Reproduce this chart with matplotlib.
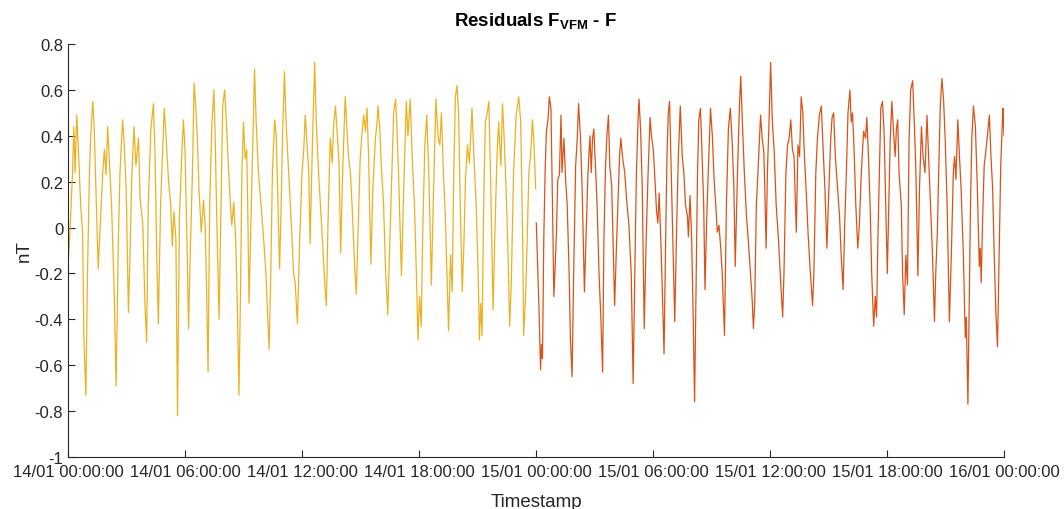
import numpy as np
import matplotlib
matplotlib.use("Agg")
import matplotlib.pyplot as plt
import matplotlib.dates as mdates

plt.rcParams['font.family'] = ['Liberation Sans', 'DejaVu Sans']
plt.rcParams['mathtext.fontset'] = 'custom'
plt.rcParams['mathtext.rm'] = 'Liberation Sans'
plt.rcParams['mathtext.bf'] = 'Liberation Sans:bold'

# minutes since 14/01 00:00 and residual (nT)
day1_min = [0, 6, 14, 18, 22, 27, 32, 39, 45, 49, 55, 60, 66, 70, 76, 80, 86, 93, 99,
            107, 112, 117, 122, 129, 134, 142, 148, 155, 160, 168, 172, 179, 186, 191,
            196, 203, 209, 217, 222, 230, 237, 242, 247, 255, 263, 268, 273, 278, 285,
            296, 302, 309, 316, 321, 326, 332, 337, 343, 350, 355, 360, 366, 371, 376,
            383, 388, 393, 398, 403, 410, 417, 422, 427, 431, 436, 443, 449, 453, 458,
            465, 470, 476, 482, 487, 492, 499, 504, 510, 516, 521, 526, 531, 535, 540,
            545, 550, 553, 557, 564, 569, 574, 579, 586, 594, 602, 609, 615, 619, 624,
            629, 636, 641, 646, 651, 656, 660, 666, 671, 679, 687, 694, 699, 706, 713,
            720, 725, 730, 737, 741, 745, 752, 759, 764, 771, 778, 784, 791, 795, 800,
            807, 813, 817, 823, 828, 834, 839, 845, 853, 858, 863, 869, 875, 882, 887,
            892, 899, 905, 910, 915, 920, 925, 932, 938, 946, 951, 954, 959, 964, 971,
            977, 984, 989, 995, 1002, 1008, 1012, 1017, 1026, 1033, 1041, 1046, 1053,
            1059, 1066, 1072, 1077, 1082, 1087, 1091, 1098, 1104, 1110, 1115, 1118,
            1125, 1132, 1139, 1144, 1149, 1155, 1161, 1166, 1171, 1177, 1182, 1187,
            1192, 1197, 1202, 1207, 1213, 1218, 1223, 1229, 1235, 1243, 1249, 1256,
            1262, 1266, 1270, 1274, 1279, 1284, 1290, 1295, 1300, 1308, 1313, 1320,
            1325, 1332, 1337, 1342, 1348, 1354, 1359, 1364, 1371, 1379, 1387, 1393,
            1399, 1402, 1408, 1413, 1418, 1423, 1429, 1433, 1439]
day1_val = [-0.17, -0.02, 0.24, 0.44, 0.24, 0.49, 0.34, 0.10, -0.02, -0.49, -0.73, -0.20,
            0.24, 0.40, 0.55, 0.46, 0.17, -0.18, 0.00, 0.24, 0.34, 0.23, 0.44, 0.24, 0.10,
            -0.27, -0.69, -0.05, 0.24, 0.47, 0.39, 0.17, -0.37, -0.11, 0.21, 0.44, 0.27,
            0.39, 0.12, 0.02, -0.34, -0.50, 0.10, 0.43, 0.54, 0.31, -0.12, -0.42, 0.10,
            0.52, 0.39, 0.21, 0.10, -0.08, 0.07, -0.05, -0.82, 0.05, 0.31, 0.47, 0.34,
            -0.05, -0.44, -0.12, 0.24, 0.63, 0.53, 0.39, 0.17, -0.02, 0.12, 0.01, -0.31,
            -0.63, 0.10, 0.46, 0.60, 0.39, 0.02, -0.40, 0.02, 0.53, 0.60, 0.47, 0.31,
            0.12, 0.01, 0.11, -0.05, -0.34, -0.73, -0.27, 0.24, 0.46, 0.30, 0.34, 0.10,
            -0.33, 0.10, 0.39, 0.69, 0.46, 0.24, 0.10, -0.05, -0.20, -0.41, -0.53, -0.20,
            0.24, 0.47, 0.39, 0.10, -0.18, 0.10, 0.39, 0.68, 0.46, 0.24, 0.02, -0.20,
            -0.24, -0.42, -0.05, 0.24, 0.33, 0.49, 0.33, 0.24, -0.07, 0.36, 0.72, 0.46,
            0.24, 0.07, -0.08, -0.27, -0.34, 0.02, 0.39, 0.28, 0.44, 0.53, 0.42, 0.28,
            -0.11, 0.24, 0.57, 0.44, 0.31, 0.24, 0.07, -0.17, -0.29, -0.05, 0.30, 0.42,
            0.49, 0.42, 0.52, 0.31, -0.16, 0.17, 0.39, 0.46, 0.53, 0.44, 0.27, 0.10,
            -0.18, -0.38, -0.12, 0.17, 0.50, 0.56, 0.44, 0.24, -0.21, 0.17, 0.55, 0.40,
            0.56, 0.31, 0.10, -0.20, -0.49, -0.30, -0.43, -0.05, 0.36, 0.49, 0.24, -0.05,
            -0.25, 0.17, 0.56, 0.39, 0.36, 0.50, 0.24, 0.05, -0.20, -0.45, -0.12, -0.28,
            0.24, 0.57, 0.62, 0.49, 0.10, -0.28, -0.08, 0.21, 0.36, 0.28, 0.52, 0.31,
            0.10, -0.20, -0.49, -0.33, -0.47, 0.10, 0.46, 0.50, 0.55, 0.24, -0.36, -0.05,
            0.31, 0.46, 0.27, 0.54, 0.39, 0.17, -0.12, -0.43, -0.24, 0.24, 0.49, 0.57,
            0.46, -0.05, -0.47, -0.30, -0.05, 0.24, 0.31, 0.47, 0.39, 0.17]

day2_min = [1441, 1449, 1454, 1457, 1460, 1464, 1468, 1472, 1477, 1481, 1486, 1490, 1495,
            1499, 1503, 1507, 1512, 1517, 1520, 1526, 1531, 1536, 1542, 1546, 1551, 1556,
            1562, 1567, 1571, 1577, 1582, 1589, 1594, 1600, 1606, 1610, 1614, 1618, 1623,
            1628, 1634, 1640, 1645, 1649, 1654, 1659, 1663, 1667, 1673, 1678, 1682, 1687,
            1692, 1697, 1701, 1706, 1713, 1719, 1726, 1733, 1739, 1744, 1749, 1754, 1757,
            1762, 1767, 1773, 1779, 1785, 1791, 1796, 1801, 1806, 1811, 1815, 1819, 1824,
            1830, 1834, 1839, 1843, 1847, 1851, 1855, 1861, 1867, 1872, 1878, 1884, 1890,
            1895, 1900, 1906, 1909, 1914, 1919, 1923, 1928, 1933, 1937, 1941, 1946, 1950,
            1956, 1960, 1965, 1970, 1977, 1983, 1988, 1993, 1998, 2003, 2008, 2013, 2020,
            2026, 2032, 2038, 2044, 2049, 2053, 2060, 2066, 2070, 2075, 2081, 2088, 2093,
            2100, 2105, 2109, 2113, 2118, 2123, 2128, 2131, 2136, 2141, 2144, 2148, 2152,
            2157, 2162, 2167, 2173, 2179, 2186, 2193, 2199, 2203, 2209, 2214, 2219, 2224,
            2229, 2234, 2241, 2246, 2251, 2256, 2261, 2266, 2271, 2277, 2283, 2291, 2295,
            2301, 2306, 2312, 2318, 2322, 2329, 2335, 2340, 2347, 2351, 2356, 2361, 2368,
            2374, 2379, 2385, 2390, 2395, 2400, 2406, 2410, 2414, 2419, 2424, 2430, 2435,
            2441, 2448, 2454, 2458, 2463, 2468, 2473, 2479, 2484, 2488, 2492, 2496, 2501,
            2506, 2511, 2516, 2521, 2525, 2530, 2535, 2540, 2545, 2549, 2553, 2557, 2564,
            2568, 2573, 2578, 2583, 2588, 2593, 2599, 2604, 2609, 2615, 2620, 2626, 2631,
            2637, 2643, 2648, 2654, 2660, 2666, 2670, 2675, 2679, 2684, 2689, 2694, 2699,
            2705, 2712, 2718, 2724, 2728, 2732, 2738, 2743, 2748, 2755, 2761, 2764, 2769,
            2773, 2777, 2781, 2786, 2792, 2798, 2804, 2807, 2810, 2814, 2819, 2824, 2830,
            2835, 2840, 2845, 2850, 2855, 2860, 2866, 2870, 2875, 2877, 2880]
day2_val = [0.02, -0.34, -0.62, -0.51, -0.57, -0.05, 0.24, 0.42, 0.47, 0.57, 0.52, 0.17,
            -0.30, -0.17, -0.02, 0.21, 0.23, 0.49, 0.24, 0.39, 0.21, 0.10, -0.20, -0.49,
            -0.65, -0.20, 0.27, 0.39, 0.54, 0.39, 0.17, -0.28, -0.05, 0.24, 0.40, 0.24,
            0.39, 0.43, 0.27, 0.10, -0.20, -0.41, -0.63, -0.05, 0.27, 0.42, 0.49, 0.27,
            0.18, -0.12, -0.34, -0.11, 0.10, 0.31, 0.39, 0.31, 0.24, 0.12, 0.01, -0.20,
            -0.68, -0.20, 0.24, 0.47, 0.56, 0.42, 0.17, -0.44, -0.05, 0.24, 0.48, 0.39,
            0.34, 0.21, 0.07, 0.02, 0.15, -0.05, -0.34, -0.55, -0.05, 0.31, 0.50, 0.55,
            0.31, -0.05, -0.41, -0.05, 0.31, 0.53, 0.31, 0.24, 0.10, 0.05, -0.04, 0.14,
            -0.05, -0.34, -0.76, -0.20, 0.24, 0.47, 0.52, 0.36, 0.10, -0.27, 0.02, 0.24,
            0.52, 0.39, 0.21, 0.10, -0.02, 0.01, -0.08, -0.20, -0.47, 0.10, 0.43, 0.52,
            0.36, 0.17, -0.17, 0.24, 0.53, 0.66, 0.46, 0.24, 0.04, -0.05, -0.20, -0.31,
            -0.44, -0.33, 0.10, 0.24, 0.40, 0.49, 0.39, 0.33, 0.17, -0.09, 0.24, 0.46,
            0.72, 0.47, 0.33, 0.10, -0.05, -0.24, -0.39, -0.20, 0.24, 0.36, 0.39, 0.47,
            0.34, 0.31, -0.02, 0.36, 0.31, 0.57, 0.50, 0.31, 0.17, -0.02, -0.17, -0.34,
            -0.20, 0.24, 0.39, 0.49, 0.53, 0.39, 0.17, -0.09, 0.12, 0.39, 0.48, 0.50,
            0.31, 0.17, 0.05, -0.12, -0.27, 0.02, 0.24, 0.50, 0.60, 0.46, 0.50, 0.33,
            0.10, -0.09, 0.01, 0.24, 0.42, 0.39, 0.48, 0.31, 0.10, -0.20, -0.43, -0.30,
            -0.39, -0.05, 0.21, 0.52, 0.55, 0.42, 0.10, -0.20, 0.07, 0.39, 0.55, 0.42,
            0.31, 0.43, 0.47, 0.24, 0.10, -0.20, -0.38, -0.12, -0.25, 0.39, 0.60, 0.64,
            0.46, 0.24, -0.21, 0.17, 0.44, 0.31, 0.24, 0.49, 0.31, 0.10, -0.12, -0.41,
            -0.20, -0.02, 0.24, 0.53, 0.65, 0.56, 0.39, 0.10, -0.41, -0.12, 0.24, 0.31,
            0.21, 0.47, 0.31, 0.17, -0.12, -0.48, -0.39, -0.77, -0.34, 0.10, 0.39, 0.53,
            0.44, 0.17, -0.17, -0.09, -0.24, 0.02, 0.27, 0.33, 0.42, 0.49, 0.31, 0.17,
            -0.12, -0.37, -0.52, -0.05, 0.27, 0.46, 0.52, 0.40]

start = np.datetime64('2016-01-14T00:00')
t1 = start + np.array(day1_min).astype('timedelta64[m]')
t2 = start + np.array(day2_min).astype('timedelta64[m]')

fig = plt.figure(figsize=(10.64, 5.10), dpi=100)
ax = fig.add_axes([0.0639, 0.102, 0.8797, 0.8096])

ax.plot(t1, day1_val, color='#EDB120', lw=0.9)
ax.plot(t2, day2_val, color='#D95319', lw=0.9)

ax.set_ylim(-1, 0.8)
ax.set_yticks(np.arange(-1, 0.81, 0.2))
ax.set_yticklabels(['-1', '-0.8', '-0.6', '-0.4', '-0.2', '0', '0.2', '0.4', '0.6', '0.8'])
ax.set_xlim(start, start + np.timedelta64(48, 'h'))
ax.xaxis.set_major_locator(mdates.HourLocator(byhour=[0, 6, 12, 18]))
ax.xaxis.set_major_formatter(mdates.DateFormatter('%d/%m %H:%M:%S'))

dark = '#262626'
for side in ['top', 'right']:
    ax.spines[side].set_visible(False)
for side in ['left', 'bottom']:
    ax.spines[side].set_color(dark)
    ax.spines[side].set_linewidth(0.8)
ax.tick_params(direction='in', length=5, width=0.8, colors=dark, labelsize=12)
ax.tick_params(axis='x', pad=5)

ax.set_title(r'Residuals F$_{\mathbf{VFM}}$ - F', fontsize=13.5, fontweight='bold', pad=13)
ax.set_xlabel('Timestamp', fontsize=13.5, color=dark, labelpad=10)
ax.set_ylabel('nT', fontsize=13.5, color=dark, labelpad=1)

fig.savefig('out.png', dpi=100)
